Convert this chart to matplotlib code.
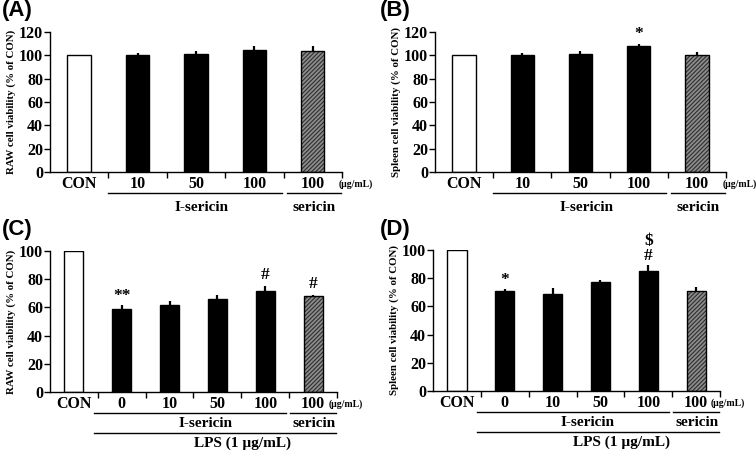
import matplotlib
matplotlib.use('Agg')
import matplotlib.pyplot as plt
import matplotlib.transforms as mtransforms

# Configuração de fontes
plt.rcParams['font.family'] = 'Liberation Serif'
plt.rcParams['font.weight'] = 'bold'
plt.rcParams['hatch.linewidth'] = 0.8

# --------> Dados
labels_ab = ['CON', '10', '50', '100', '100']
labels_cd = ['CON', '0', '10', '50', '100', '100']

raw_vals = [100, 100, 101, 105, 104]
raw_errs = [0, 2, 2.5, 3, 4]

spleen_vals = [100, 100, 101, 108, 100]
spleen_errs = [0, 2, 3, 2, 3]

raw_lps_vals = [100, 59, 62, 66, 71.5, 68]
raw_lps_errs = [0, 2.7, 2.6, 3, 4, 1]

spleen_lps_vals = [100, 71, 69, 77, 85, 70.8]
spleen_lps_errs = [0, 1.5, 4, 2, 4, 3]

# marcas de significância: (índice da barra, texto, y)
marks_b = [(3, '*', 118)]
marks_c = [(1, '**', 68), (4, '#', 83), (5, '#', 76.5)]
marks_d = [(1, '*', 79), (4, '#', 95.5), (4, '$', 106.5)]


def draw_panel(ax, cats, vals, errs, ymax, ylabel, marks):
    n = len(cats)
    x = list(range(n))
    colors = ['white'] + ['black'] * (n - 2)
    # barras
    ax.bar(x[:-1], vals[:-1], width=0.4, color=colors, edgecolor='black', linewidth=1.0, zorder=2)
    ax.bar(x[-1], vals[-1], width=0.4, color='#8c8c8c', edgecolor='#2e2e2e', hatch='////////', linewidth=0, zorder=2)
    ax.bar(x[-1], vals[-1], width=0.4, color='none', edgecolor='black', linewidth=1.0, zorder=3)
    # barras de erro (só para cima)
    ax.errorbar(x[1:], vals[1:], yerr=[[0] * (n - 1), errs[1:]], fmt='none',
                ecolor='black', elinewidth=1.6, capsize=0, zorder=1)
    for i, t, y in marks:
        ax.text(i, y, t, ha='center', va='center', fontsize=12.5, fontweight='bold')

    ax.set_xlim(-0.5, n - 0.5)
    ax.set_ylim(0, ymax)
    ax.set_yticks(range(0, ymax + 1, 20))
    ax.set_xticks(x)
    ax.set_xticklabels(cats, fontsize=11.5, fontweight='bold')
    ax.set_xticks([i + 0.5 for i in range(n)], minor=True)
    ax.tick_params(axis='x', which='major', length=0, pad=3)
    ax.tick_params(axis='x', which='minor', length=4, width=1.0, direction='out')
    ax.tick_params(axis='y', length=4, width=1.0, direction='out', labelsize=11.5, pad=1)
    for lb in ax.get_yticklabels():
        lb.set_fontweight('bold')
    ax.spines['top'].set_visible(False)
    ax.spines['right'].set_visible(False)
    ax.spines['left'].set_linewidth(1.0)
    ax.spines['bottom'].set_linewidth(1.0)
    ax.set_ylabel(ylabel, fontsize=7.8, fontweight='bold', labelpad=2)


def group_line(ax, x0, x1, y):
    trans = mtransforms.blended_transform_factory(ax.transData, ax.transAxes)
    ax.plot([x0, x1], [y, y], color='black', lw=1.0, transform=trans, clip_on=False)


def group_text(ax, x, y, s, size=11):
    trans = mtransforms.blended_transform_factory(ax.transData, ax.transAxes)
    ax.text(x, y, s, transform=trans, ha='center', va='center', fontsize=size, fontweight='bold')


fig = plt.figure(figsize=(7.56, 4.58), dpi=100)

ax_a = fig.add_axes([0.0661, 0.6245, 0.3863, 0.3056])
ax_b = fig.add_axes([0.5754, 0.6245, 0.3849, 0.3056])
ax_c = fig.add_axes([0.0661, 0.1441, 0.3797, 0.3079])
ax_d = fig.add_axes([0.5728, 0.1463, 0.3796, 0.3079])

draw_panel(ax_a, labels_ab, raw_vals, raw_errs, 120, 'RAW cell viability (% of CON)', [])
draw_panel(ax_b, labels_ab, spleen_vals, spleen_errs, 120, 'Spleen cell viability (% of CON)', marks_b)
draw_panel(ax_c, labels_cd, raw_lps_vals, raw_lps_errs, 100, 'RAW cell viability (% of CON)', marks_c)
draw_panel(ax_d, labels_cd, spleen_lps_vals, spleen_lps_errs, 100, 'Spleen cell viability (% of CON)', marks_d)

# Painéis A e B: linhas de grupo
for ax in [ax_a, ax_b]:
    group_line(ax, 0.5, 3.47, -0.15)
    group_line(ax, 3.55, 4.48, -0.15)
    group_text(ax, 2.1, -0.257, 'I-sericin')
    group_text(ax, 4.02, -0.257, 'sericin')
    ax.text(4.45, -0.086, '(\u00b5g/mL)', transform=mtransforms.blended_transform_factory(ax.transData, ax.transAxes),
            ha='left', va='center', fontsize=7, fontweight='bold')

# Painéis C e D: linhas de grupo + LPS
for ax, ilab, lpsx, unitx in [(ax_c, 2.76, 3.52, 5.32), (ax_d, 2.72, 3.43, 5.3)]:
    group_line(ax, 0.42, 4.44, -0.149)
    group_line(ax, 4.52, 5.48, -0.149)
    group_line(ax, 0.42, 5.48, -0.29)
    group_text(ax, ilab, -0.22, 'I-sericin')
    group_text(ax, 5.02, -0.22, 'sericin')
    group_text(ax, lpsx, -0.36, 'LPS (1 \u00b5g/mL)', size=11)
    ax.text(unitx, -0.086, '(\u00b5g/mL)', transform=mtransforms.blended_transform_factory(ax.transData, ax.transAxes),
            ha='left', va='center', fontsize=7, fontweight='bold')

# Rótulos dos painéis
for s, x, y in [('(A)', 0.002, 0.976), ('(B)', 0.502, 0.976), ('(C)', 0.002, 0.499), ('(D)', 0.502, 0.499)]:
    fig.text(x, y, s, fontsize=16, fontweight='bold', family='Liberation Sans', ha='left', va='center')

fig.savefig('out.png', dpi=100)
